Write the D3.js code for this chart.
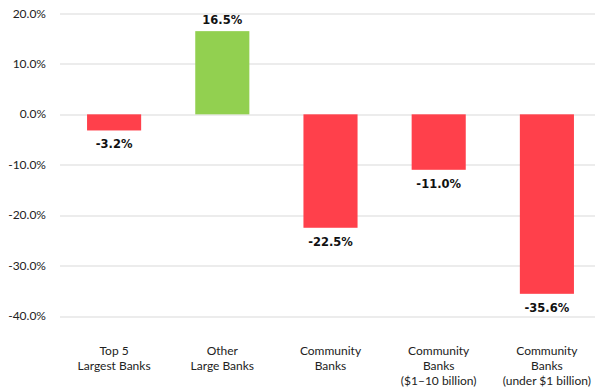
<!DOCTYPE html>
<html>
<head>
<meta charset="utf-8">
<script src="https://cdn.jsdelivr.net/npm/d3@7"></script>
<style>
  body { margin: 0; background: #fff; }
  svg { display: block; }
</style>
</head>
<body>
<div id="chart"></div>
<script>
const categories = [
    ["Top 5", "Largest Banks"],
    ["Other", "Large Banks"],
    ["Community", "Banks"],
    ["Community", "Banks", "($1\u201310 billion)"],
    ["Community", "Banks", "(under $1 billion)"]
];
const values = [-3.2, 16.5, -22.5, -11.0, -35.6];
const yTicks = [20, 10, 0, -10, -20, -30, -40];

const W = 595, H = 389;
const margin = {top: 13.5, right: -6, bottom: 73, left: 60};
const width = W - margin.left - margin.right,
      height = H - margin.top - margin.bottom;

const svg = d3.select("#chart").append("svg")
    .attr("width", W)
    .attr("height", H)
    .append("g")
    .attr("transform", `translate(${margin.left},${margin.top})`);

const x = d3.scaleBand()
    .domain(d3.range(values.length))
    .range([0, width])
    .padding(0);

const y = d3.scaleLinear()
    .domain([-40, 20])
    .range([height, 0]);

// gridlines
svg.append("g")
   .selectAll("line")
   .data(yTicks)
   .enter().append("line")
   .attr("x1", 0)
   .attr("x2", W - margin.left)
   .attr("y1", d => Math.round(y(d)) + 0.5)
   .attr("y2", d => Math.round(y(d)) + 0.5)
   .attr("stroke", "#d9d9d9")
   .attr("stroke-width", 1);

// y axis labels
svg.append("g")
   .selectAll("text")
   .data(yTicks)
   .enter().append("text")
   .attr("x", -14)
   .attr("y", d => y(d) + 4)
   .attr("text-anchor", "end")
   .style("font-family", "Lato, 'Open Sans', sans-serif")
   .style("font-size", "12px")
   .style("fill", "#222")
   .text(d => d.toFixed(1) + "%");

const bw = x.bandwidth() * 0.5;

svg.append("g")
   .selectAll("rect")
   .data(values)
   .enter().append("rect")
   .attr("x", (d, i) => x(i) + (x.bandwidth() - bw) / 2)
   .attr("y", d => y(Math.max(0, d)))
   .attr("width", bw)
   .attr("height", d => Math.abs(y(d) - y(0)))
   .attr("fill", d => d >= 0 ? "#92d050" : "#ff404b");

// value labels
svg.append("g")
   .selectAll("text")
   .data(values)
   .enter().append("text")
   .attr("x", (d, i) => x(i) + x.bandwidth() / 2)
   .attr("y", d => d >= 0 ? y(d) - 7 : y(d) + 18)
   .attr("text-anchor", "middle")
   .style("font-family", "'DejaVu Sans', sans-serif")
   .style("font-weight", "bold")
   .style("font-size", "11.5px")
   .style("fill", "#111")
   .text(d => d.toFixed(1) + "%");

// category labels
const cat = svg.append("g")
   .selectAll("text")
   .data(categories)
   .enter().append("text")
   .attr("x", (d, i) => x(i) + x.bandwidth() / 2)
   .attr("y", height + 39)
   .attr("text-anchor", "middle")
   .style("font-family", "Lato, 'Open Sans', sans-serif")
   .style("font-size", "12px")
   .style("fill", "#222");

cat.selectAll("tspan")
   .data(d => d)
   .enter().append("tspan")
   .attr("x", function() { return d3.select(this.parentNode).attr("x"); })
   .attr("dy", (d, i) => i === 0 ? 0 : 15)
   .text(d => d);
</script>
</body>
</html>
